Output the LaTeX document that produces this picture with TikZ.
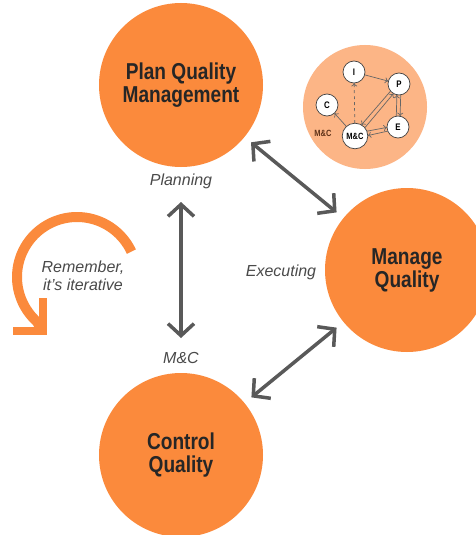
\documentclass[tikz,border=0pt]{standalone}
\usepackage{fontspec}
\setmainfont{Liberation Sans}
\newfontfamily\condfont[FakeStretch=0.83]{Liberation Sans}
\usetikzlibrary{arrows.meta,calc}
\definecolor{orng}{HTML}{FB8A3C}
\definecolor{lorng}{HTML}{FCB586}
\definecolor{arrgray}{HTML}{595959}
\definecolor{labgray}{HTML}{4A4A4A}
\definecolor{inkgray}{HTML}{666666}
\definecolor{mcbrown}{HTML}{5E3218}
\begin{document}
\begin{tikzpicture}[x=1pt,y=-1pt,
  bigcirc/.style={circle, fill=orng, minimum size=164pt, inner sep=0pt, outer sep=0pt, align=center, text=black!85, font=\condfont\bfseries\fontsize{23}{23}\selectfont},
  phase/.style={font=\itshape\fontsize{16}{18}\selectfont, text=labgray, inner sep=0pt},
  bigarrow/.style={draw=arrgray, line width=3.5pt, {Straight Barb[length=12pt,width=26pt]}-{Straight Barb[length=12pt,width=26pt]}},
  smallc/.style={circle, draw=black!75, line width=0.7pt, fill=white, minimum size=22pt, inner sep=0pt, outer sep=0pt, font=\condfont\bfseries\fontsize{9.5}{10}\selectfont},
  inarr/.style={draw=inkgray, line width=0.7pt, -{To[length=3.5pt,width=6pt]}},
]
\clip (0,0) rectangle (476,535);
\fill[white] (0,0) rectangle (476,535);

% main circles
\node[bigcirc] (plan) at (181,85) {Plan Quality\\Management};
\node[bigcirc] (manage) at (407,270) {Manage\\Quality};
\node[bigcirc] (control) at (181,455) {Control\\Quality};

% phase labels
\node[phase] (planning) at (181,181.5) {Planning};
\node[phase] (mcphase) at (181,358) {M\&C};
\node[phase] (executing) at (281,272) {Executing};
\node[phase, align=center] (rem) at (83,276) {Remember,\\it’s iterative};

% main arrows
\draw[bigarrow, shorten <=35pt, shorten >=35pt] (plan) -- (control);
\draw[bigarrow, shorten <=8.5pt, shorten >=9pt] (plan) -- (manage);
\draw[bigarrow, shorten <=9pt, shorten >=9pt] (manage) -- (control);

% iterative arc
\draw[orng, line width=10pt] plot[domain=25:228, samples=80] ({77+60*cos(\x)}, {277-60*sin(\x)}) -- (42,330);
\draw[orng, line width=8pt, line join=miter] (43,298) -- (43,331) -- (13,331);

% inset
\node[circle, fill=lorng, minimum size=124pt, inner sep=0pt] (inset) at (365,107) {};
\node[font=\condfont\bfseries\fontsize{9}{10}\selectfont, text=mcbrown, inner sep=0pt] (mclab) at (323,133) {M\&C};
\node[smallc] (i) at (354,72) {I};
\node[smallc] (p) at (399,84) {P};
\node[smallc] (c) at (327,105) {C};
\node[smallc] (e) at (398,127) {E};
\node[smallc, minimum size=25.6pt, font=\condfont\bfseries\fontsize{9}{10}\selectfont] (mc) at (355,136) {M\&C};

\draw[inarr] (i) -- (p);
\draw[inarr] (mc) -- (c);
\draw[inarr, dashed] (mc) -- (i);
\draw[inarr] (mc.40) -- (p.240);
\draw[inarr] (p.220) -- (mc.60);
\draw[inarr] (mc.22) -- (e.182);
\draw[inarr] (e.202) -- (mc.2);
\draw[inarr] (p.279) -- (e.79);
\draw[inarr] (e.99) -- (p.259);
\end{tikzpicture}
\end{document}
